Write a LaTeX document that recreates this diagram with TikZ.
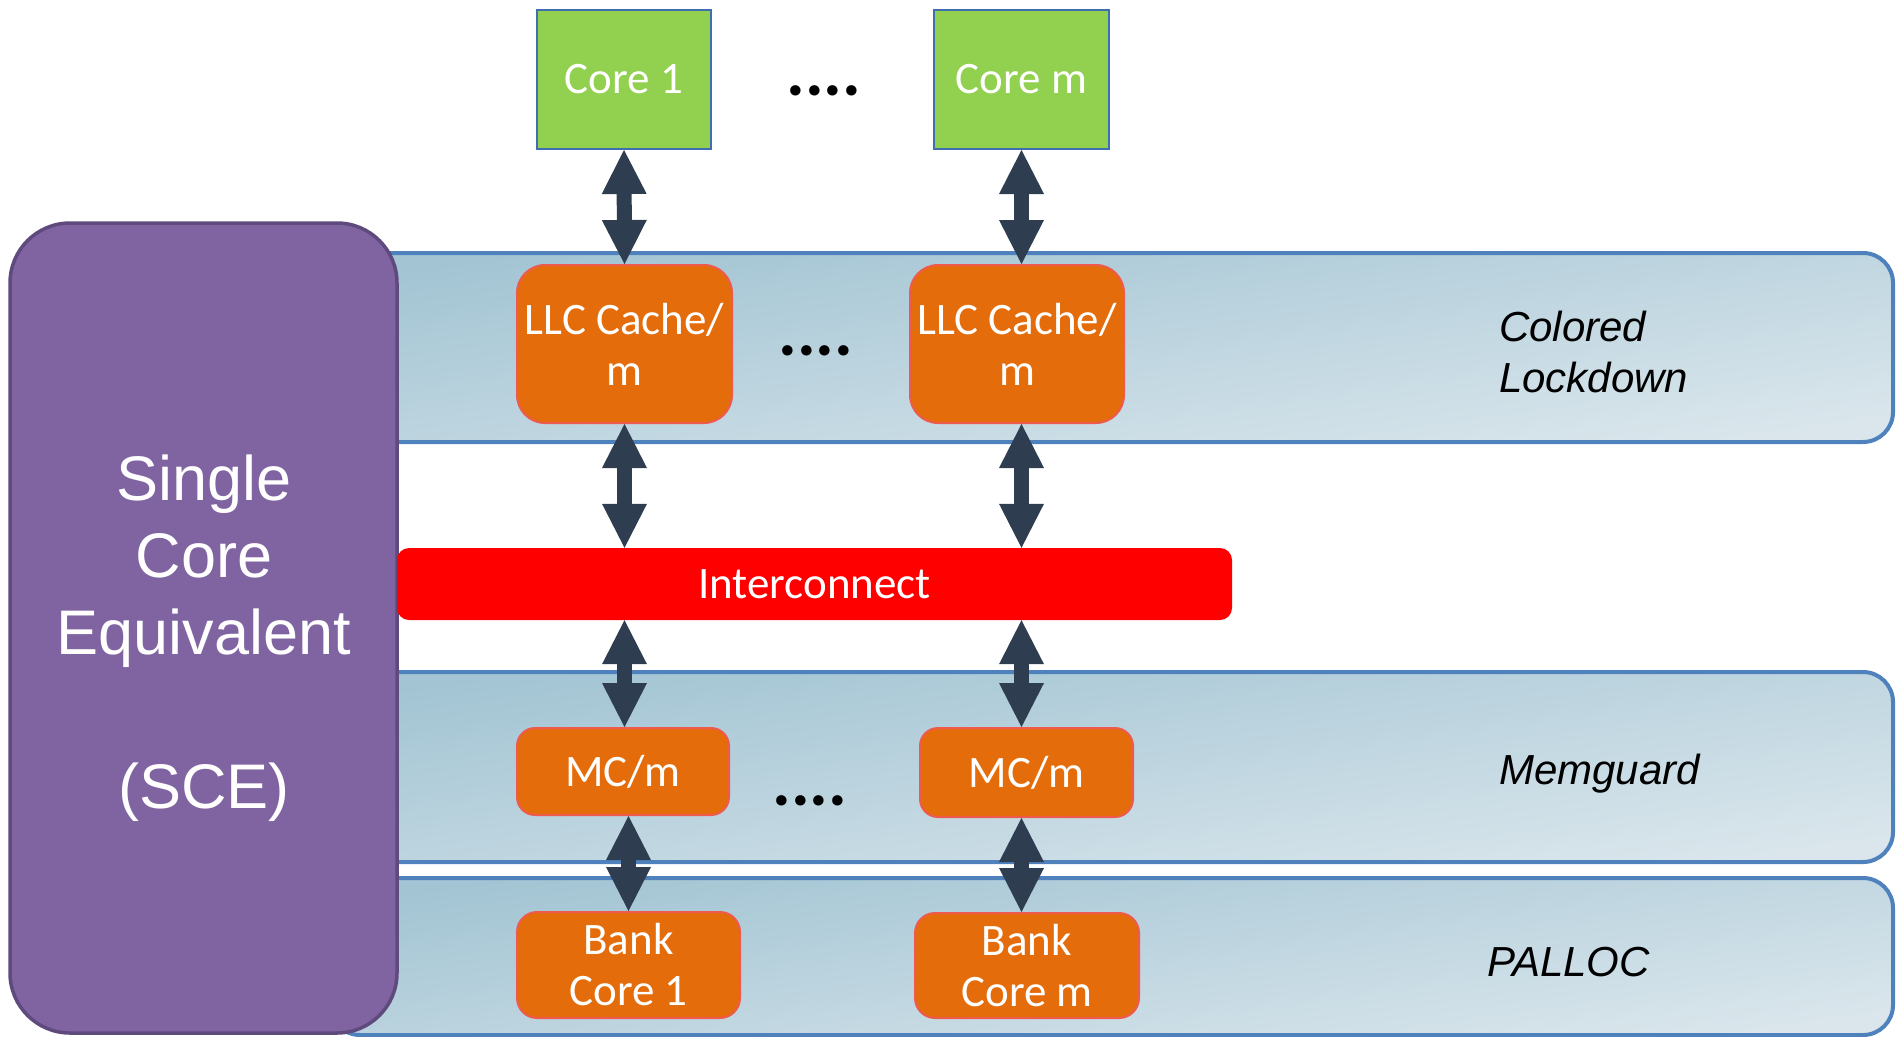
\documentclass[tikz,border=0pt]{standalone}
\usepackage{fontspec}
\setmainfont{Carlito}
\newfontfamily\arialfont{Liberation Sans}
\usetikzlibrary{arrows.meta}

\definecolor{coregreen}{HTML}{92D050}
\definecolor{coreedge}{HTML}{3F6FB0}
\definecolor{boxorange}{HTML}{E46C0A}
\definecolor{boxedge}{HTML}{EF5A4E}
\definecolor{bandedge}{HTML}{4F81BD}
\definecolor{bandtop}{HTML}{A2C4D3}
\definecolor{bandbot}{HTML}{DAE6EC}
\definecolor{scefill}{HTML}{8064A2}
\definecolor{sceedge}{HTML}{5F4A7E}
\definecolor{arrowc}{HTML}{2E3E50}
\definecolor{icred}{HTML}{FF0000}

\tikzset{
  boxtext/.style={text=white, font=\fontsize{45}{51}\selectfont, align=center, inner sep=0pt},
  corebox/.style={boxtext, rectangle, fill=coregreen, draw=coreedge, line width=2pt},
  unitbox/.style={boxtext, rectangle, fill=boxorange, draw=boxedge, line width=2pt},
  band/.style={draw=bandedge, line width=4pt, rounded corners=30pt,
    top color=bandtop, bottom color=bandbot, shading angle=8},
  layerlabel/.style={font=\arialfont\itshape\fontsize{42}{51}\selectfont, align=left,
    anchor=west, inner sep=0pt, text=black},
  dots/.style={font=\bfseries\fontsize{70}{70}\selectfont, inner sep=0pt, anchor=base},
  biarrow/.style={draw=arrowc, line width=15pt,
    {Triangle[length=44pt,width=45pt,line width=0pt]}-{Triangle[length=44pt,width=45pt,line width=0pt]}},
}

\begin{document}
\begin{tikzpicture}[x=1pt,y=-1pt]
  \useasboundingbox (0,0) rectangle (1900,1036);

  % layer bands
  \draw[band] (330,253) rectangle (1893,442);
  \draw[band] (330,672) rectangle (1893,862);
  \draw[band] (330,878) rectangle (1893,1035);

  % single core equivalent block
  \draw[fill=scefill, draw=sceedge, line width=3.5pt, rounded corners=60pt]
    (10,223) rectangle (397,1033);
  \node[text=white, align=center, inner sep=0pt,
        font=\arialfont\fontsize{63}{77}\selectfont] (sce) at (204,638)
    {Single\\Core\\Equivalent\\[77pt](SCE)};

  % cores
  \node[corebox, minimum width=174pt, minimum height=139pt] (core1) at (624,79.5) {Core 1};
  \node[corebox, minimum width=175pt, minimum height=139pt] (corem) at (1021.5,79.5) {Core m};
  \node[dots] (dtop) at (824,95) {....};

  % last level cache partitions
  \node[unitbox, rounded corners=28pt, minimum width=215pt, minimum height=158pt]
    (llc1) at (624.5,344) {LLC Cache/\\m};
  \node[unitbox, rounded corners=28pt, minimum width=214pt, minimum height=158pt]
    (llcm) at (1017,344) {LLC Cache/\\m};
  \node[dots] (dllc) at (816,355) {....};

  % interconnect
  \node[boxtext, rectangle, fill=icred, rounded corners=12pt,
        minimum width=835pt, minimum height=72pt] (ic) at (814.5,584) {Interconnect};

  % memory controllers
  \node[unitbox, rounded corners=18pt, minimum width=212pt, minimum height=87pt]
    (mc1) at (623,771.5) {MC/m};
  \node[unitbox, rounded corners=18pt, minimum width=213pt, minimum height=89pt]
    (mcm) at (1026.5,772.5) {MC/m};
  \node[dots] (dmc) at (810,805) {....};

  % memory banks
  \node[unitbox, rounded corners=20pt, minimum width=223pt, minimum height=106pt]
    (bank1) at (628.5,965) {Bank\\Core 1};
  \node[unitbox, rounded corners=20pt, minimum width=224pt, minimum height=105pt]
    (bankm) at (1027,965.5) {Bank\\Core m};

  % layer names
  \node[layerlabel] (lcl) at (1499,352) {Colored\\Lockdown};
  \node[layerlabel] (lmg) at (1499,774) {Memguard};
  \node[layerlabel] (lpa) at (1487,962) {PALLOC};

  % connections
  \draw[biarrow] (core1.south) -- (llc1.north);
  \draw[biarrow] (corem.south) -- (corem.south |- llcm.north);
  \draw[biarrow] (llc1.south) -- (llc1.south |- ic.north);
  \draw[biarrow] (corem.south |- llcm.south) -- (corem.south |- ic.north);
  \draw[biarrow] (llc1.south |- ic.south) -- (llc1.south |- mc1.north);
  \draw[biarrow] (corem.south |- ic.south) -- (corem.south |- mcm.north);
  \draw[biarrow] (bank1.north |- mc1.south) -- (bank1.north);
  \draw[biarrow] (corem.south |- mcm.south) -- (corem.south |- bankm.north);
\end{tikzpicture}
\end{document}
